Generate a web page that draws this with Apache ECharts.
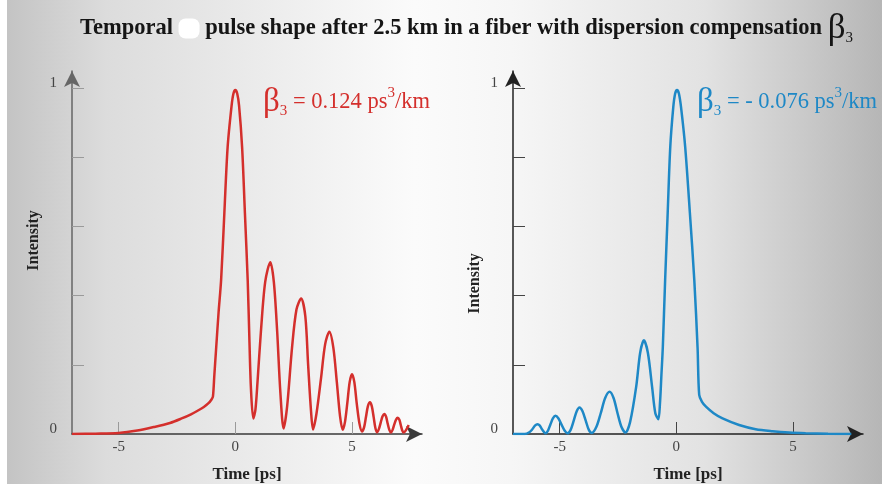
<!DOCTYPE html>
<html>
<head>
<meta charset="utf-8">
<script src="https://cdn.jsdelivr.net/npm/echarts@6/dist/echarts.min.js"></script>
<style>
html, body { margin: 0; padding: 0; background: #fff; }
#chart { width: 882px; height: 490px; }
</style>
</head>
<body>
<div id="chart"></div>
<script>
// Pulse after 2.5 km, beta3 = +0.124 ps^3/km (time in ps, normalised intensity)
const posTime = [-7, -6, -5, -4.2, -3.5, -2.8, -2.3, -1.9, -1.6, -1.35, -1.15, -1.02, -0.96, -0.9, -0.83, -0.72, -0.61, -0.47, -0.33, -0.16, -0.08, 0,
  0.08, 0.16, 0.29, 0.41, 0.53, 0.6, 0.67, 0.77,
  0.86, 0.95, 1.1, 1.28, 1.5, 1.65, 1.79, 1.93, 2.07,
  2.22, 2.43, 2.62, 2.82, 3.0, 3.12, 3.24, 3.33,
  3.48, 3.67, 3.85, 4.03, 4.2, 4.35, 4.49, 4.6,
  4.7, 4.8, 4.9, 5.0, 5.1, 5.2, 5.32, 5.43,
  5.52, 5.6, 5.68, 5.77, 5.85, 5.93, 6.0, 6.07,
  6.15, 6.23, 6.31, 6.39, 6.46, 6.53, 6.6, 6.67,
  6.74, 6.81, 6.89, 6.96, 7.03, 7.09, 7.15, 7.21, 7.32, 7.43];
const posIntensity = [0, 0.001, 0.003, 0.01, 0.02, 0.032, 0.045, 0.057, 0.068, 0.078, 0.089, 0.1, 0.108, 0.17, 0.24, 0.35, 0.445, 0.64, 0.83, 0.95, 0.985, 0.995,
  0.985, 0.95, 0.83, 0.64, 0.445, 0.28, 0.13, 0.045,
  0.07, 0.15, 0.3, 0.44, 0.497, 0.44, 0.3, 0.12, 0.016,
  0.08, 0.25, 0.36, 0.392, 0.34, 0.2, 0.07, 0.013,
  0.06, 0.16, 0.26, 0.296, 0.25, 0.15, 0.05, 0.012,
  0.035, 0.09, 0.15, 0.173, 0.15, 0.09, 0.03, 0.007,
  0.02, 0.05, 0.08, 0.092, 0.08, 0.048, 0.018, 0.005,
  0.014, 0.033, 0.051, 0.058, 0.05, 0.03, 0.012, 0.004,
  0.012, 0.027, 0.042, 0.047, 0.041, 0.026, 0.011, 0.004, 0.012, 0.026];

// Pulse after 2.5 km, beta3 = -0.076 ps^3/km
const negTime = [-7, -6.5, -6.3, -6.18, -6.06, -5.95, -5.85, -5.75, -5.6,
  -5.5, -5.4, -5.29, -5.18, -5.05, -4.92, -4.79, -4.66,
  -4.53, -4.4, -4.27, -4.15, -4.02, -3.88, -3.75, -3.62,
  -3.43, -3.24, -3.05, -2.86, -2.69, -2.52, -2.35, -2.18,
  -1.98, -1.72, -1.55, -1.39, -1.22, -1.04, -0.9, -0.77,
  -0.7, -0.64, -0.58, -0.48, -0.37, -0.26, -0.13, -0.05, 0.03, 0.11, 0.2, 0.38, 0.58, 0.77, 0.91, 0.98,
  1.1, 1.27, 1.6, 1.98, 2.69, 3.4, 4.12, 4.83, 5.54, 6.5, 7.5];
const negIntensity = [0, 0, 0.005, 0.013, 0.024, 0.028, 0.024, 0.013, 0.002,
  0.01, 0.027, 0.045, 0.053, 0.045, 0.027, 0.01, 0.002,
  0.012, 0.038, 0.066, 0.077, 0.066, 0.038, 0.012, 0.003,
  0.02, 0.06, 0.104, 0.122, 0.104, 0.06, 0.02, 0.004,
  0.035, 0.137, 0.235, 0.271, 0.235, 0.137, 0.06, 0.043,
  0.09, 0.17, 0.25, 0.445, 0.64, 0.83, 0.946, 0.985, 0.995, 0.985, 0.946, 0.83, 0.64, 0.445, 0.25, 0.113,
  0.093, 0.079, 0.06, 0.045, 0.026, 0.014, 0.008, 0.004, 0.002, 0.0005, 0];

const timeTicks = [-5, 0, 5];
const intensityTicks = [0.2, 0.4, 0.6, 0.8, 1];
const intensityLabels = [0, 1];

const serif = 'Liberation Serif';
const redColor = '#d42f2c';
const blueColor = '#1e88c6';

const pairs = (xs, ys) => xs.map((x, i) => [x, ys[i]]);

function xAxisFor(gridIndex, lineColor, tickColor) {
  return {
    type: 'value', gridIndex, min: -7, max: 8,
    name: 'Time [ps]', nameLocation: 'middle', nameGap: 32,
    nameTextStyle: { fontFamily: serif, fontWeight: 'bold', fontSize: 17, color: '#222' },
    axisLine: { show: true, onZero: false, symbol: ['none', 'arrow'], symbolSize: [12, 16], lineStyle: { color: lineColor, width: 1.5 } },
    axisTick: { show: true, inside: true, length: 12, customValues: timeTicks, lineStyle: { color: tickColor, width: 1 } },
    axisLabel: { customValues: timeTicks, margin: 6, fontFamily: serif, fontSize: 15, color: '#444' },
    splitLine: { show: false }
  };
}

function yAxisFor(gridIndex, lineColor, tickColor, namePad) {
  return {
    type: 'value', gridIndex, min: 0, max: 1.05,
    name: 'Intensity', nameLocation: 'middle', nameGap: 30,
    nameTextStyle: { fontFamily: serif, fontWeight: 'bold', fontSize: 16, color: '#222', padding: namePad },
    axisLine: { show: true, onZero: false, symbol: ['none', 'arrow'], symbolSize: [12, 16], lineStyle: { color: lineColor, width: 1.5 } },
    axisTick: { show: true, inside: true, length: 12, customValues: intensityTicks, lineStyle: { color: tickColor, width: 1 } },
    axisLabel: { customValues: intensityLabels, margin: 15, fontFamily: serif, fontSize: 15, color: '#444', verticalAlign: 'bottom', lineHeight: 10 },
    splitLine: { show: false }
  };
}

const labelRich = (color) => ({
  b: { fontFamily: serif, fontWeight: 'normal', fontSize: 33, color },
  s: { fontFamily: serif, fontWeight: 'normal', fontSize: 15, color, verticalAlign: 'bottom' },
  t: { fontFamily: serif, fontWeight: 'normal', fontSize: 22.5, color },
  p: { fontFamily: serif, fontWeight: 'normal', fontSize: 15, color, verticalAlign: 'top' }
});

const chart = echarts.init(document.getElementById('chart'), null, { renderer: 'canvas' });
chart.setOption({
  animation: false,
  backgroundColor: {
    type: 'linear', x: 0, y: 0, x2: 1, y2: 0,
    colorStops: [
      { offset: 0, color: '#c2c2c2' },
      { offset: 0.12, color: '#dcdcdc' },
      { offset: 0.3, color: '#ececec' },
      { offset: 0.47, color: '#fbfbfb' },
      { offset: 0.58, color: '#f6f6f6' },
      { offset: 0.8, color: '#e2e2e2' },
      { offset: 1, color: '#b6b6b6' }
    ]
  },
  graphic: [
    { type: 'rect', left: 0, top: 0, shape: { width: 7, height: 490 }, style: { fill: '#ffffff' }, z: -1 },
    { type: 'rect', left: 0, top: 484, shape: { width: 882, height: 6 }, style: { fill: '#ffffff' }, z: -1 }
  ],
  title: [
    {
      left: 80, top: 11, padding: 0,
      text: '{t|Temporal }{blob|}{t| pulse shape after 2.5 km in a fiber with dispersion compensation }{b|β}{s|3}',
      textStyle: {
        rich: {
          t: { fontFamily: serif, fontWeight: 'bold', fontSize: 22.5, color: '#151515' },
          blob: { width: 21, height: 20, backgroundColor: '#ffffff', borderRadius: 7 },
          b: { fontFamily: serif, fontWeight: 'normal', fontSize: 35, color: '#151515' },
          s: { fontFamily: serif, fontWeight: 'normal', fontSize: 15, color: '#151515', verticalAlign: 'bottom' }
        }
      }
    },
    {
      left: 263, top: 86, padding: 0,
      text: '{b|β}{s|3}{t| = 0.124 ps}{p|3}{t|/km}',
      textStyle: { rich: labelRich(redColor) }
    },
    {
      left: 697, top: 86, padding: 0,
      text: '{b|β}{s|3}{t| = - 0.076 ps}{p|3}{t|/km}',
      textStyle: { rich: labelRich(blueColor) }
    }
  ],
  grid: [
    { left: 72, top: 71, width: 350, height: 363 },
    { left: 513, top: 71, width: 350, height: 363 }
  ],
  xAxis: [xAxisFor(0, '#3a3a3a', '#9a9a9a'), xAxisFor(1, '#222222', '#444444')],
  yAxis: [yAxisFor(0, '#666666', '#9a9a9a', [0, 0, 0, 24]), yAxisFor(1, '#222222', '#444444', [0, 62, 0, 0])],
  series: [
    {
      type: 'line', xAxisIndex: 0, yAxisIndex: 0, data: pairs(posTime, posIntensity),
      showSymbol: false, smooth: 0.3, lineStyle: { color: redColor, width: 2.5 }
    },
    {
      type: 'line', xAxisIndex: 1, yAxisIndex: 1, data: pairs(negTime, negIntensity),
      showSymbol: false, smooth: 0.3, lineStyle: { color: blueColor, width: 2.5 }
    }
  ]
});
</script>
</body>
</html>
